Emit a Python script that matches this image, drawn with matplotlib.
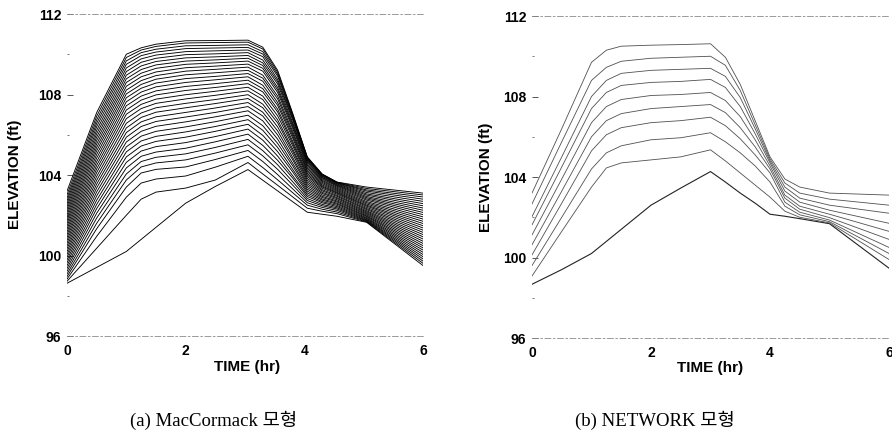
import matplotlib
matplotlib.use("Agg")
import matplotlib.pyplot as plt
from matplotlib.ticker import FixedLocator

# ---------------- data: (a) MacCormack model, 34 stations -----------------
mc_times = [0.0, 0.5, 1.0, 1.25, 1.5, 2.0, 2.5, 3.05, 3.3, 3.55, 3.8, 4.05, 4.3, 4.55, 5.05, 6.0]

mc_h000 = [98.62, 98.72, 98.83, 98.95, 99.08, 99.22, 99.36, 99.5, 99.64, 99.78, 99.92, 100.06, 100.2, 100.34,
           100.48, 100.62, 100.76, 100.9, 101.04, 101.18, 101.32, 101.46, 101.6, 101.74, 101.88, 102.02,
           102.16, 102.3, 102.44, 102.58, 102.72, 102.86, 103.02, 103.2]
mc_h050 = [99.41, 100.36, 100.95, 101.33, 101.6, 101.86, 102.1, 102.33, 102.54, 102.75, 102.96, 103.16,
           103.36, 103.55, 103.74, 103.93, 104.12, 104.3, 104.48, 104.66, 104.84, 105.02, 105.2, 105.37,
           105.54, 105.71, 105.88, 106.05, 106.22, 106.4, 106.57, 106.74, 106.92, 107.1]
mc_h100 = [100.2, 102.0, 102.9, 103.4, 103.75, 104.05, 104.35, 104.63, 104.9, 105.15, 105.4, 105.64,
           105.88, 106.11, 106.34, 106.57, 106.8, 107.02, 107.23, 107.44, 107.64, 107.84, 108.03, 108.22,
           108.41, 108.6, 108.78, 108.96, 109.14, 109.32, 109.5, 109.67, 109.84, 110.0]
mc_h125 = [100.8, 102.8, 103.6, 104.1, 104.4, 104.67, 104.93, 105.19, 105.44, 105.69, 105.93, 106.17,
           106.41, 106.64, 106.86, 107.08, 107.3, 107.51, 107.72, 107.92, 108.12, 108.31, 108.5, 108.69,
           108.88, 109.06, 109.24, 109.42, 109.6, 109.77, 109.93, 110.08, 110.21, 110.32]
mc_h150 = [101.4, 103.15, 103.8, 104.28, 104.6, 104.88, 105.14, 105.41, 105.67, 105.92, 106.17, 106.42,
           106.66, 106.89, 107.12, 107.34, 107.56, 107.77, 107.98, 108.18, 108.38, 108.57, 108.76, 108.94,
           109.12, 109.3, 109.47, 109.64, 109.8, 109.96, 110.11, 110.25, 110.39, 110.5]
mc_h200 = [102.6, 103.35, 103.95, 104.4, 104.75, 105.05, 105.33, 105.61, 105.88, 106.14, 106.39, 106.64,
           106.88, 107.11, 107.34, 107.56, 107.78, 107.99, 108.2, 108.4, 108.6, 108.79, 108.98, 109.16,
           109.33, 109.5, 109.66, 109.82, 109.98, 110.13, 110.28, 110.42, 110.56, 110.67]
mc_h250 = [103.43, 103.75, 104.39, 104.77, 105.09, 105.37, 105.65, 105.91, 106.17, 106.41, 106.65, 106.89,
           107.11, 107.33, 107.55, 107.75, 107.96, 108.16, 108.35, 108.54, 108.73, 108.9, 109.08, 109.25,
           109.41, 109.57, 109.72, 109.87, 110.02, 110.17, 110.31, 110.44, 110.58, 110.68]
mc_h305 = [104.27, 104.62, 104.93, 105.22, 105.5, 105.77, 106.03, 106.28, 106.52, 106.75, 106.97, 107.19,
           107.4, 107.6, 107.8, 107.99, 108.18, 108.36, 108.54, 108.71, 108.88, 109.04, 109.2, 109.36,
           109.51, 109.66, 109.8, 109.94, 110.08, 110.21, 110.34, 110.47, 110.6, 110.7]
mc_h330 = [103.74, 104.05, 104.37, 104.67, 104.95, 105.21, 105.47, 105.73, 105.97, 106.22, 106.45, 106.69,
           106.93, 107.12, 107.34, 107.52, 107.75, 107.92, 108.13, 108.29, 108.46, 108.66, 108.81, 108.96,
           109.16, 109.3, 109.44, 109.57, 109.71, 109.88, 110.01, 110.13, 110.26, 110.35]
mc_h355 = [103.21, 103.49, 103.76, 104.02, 104.28, 104.51, 104.73, 104.94, 105.16, 105.37, 105.57, 105.78,
           105.99, 106.19, 106.39, 106.59, 106.74, 106.94, 107.13, 107.27, 107.46, 107.6, 107.78, 107.92,
           108.1, 108.23, 108.35, 108.52, 108.64, 108.75, 108.91, 109.01, 109.11, 109.2]
mc_h380 = [102.68, 102.92, 103.13, 103.32, 103.51, 103.68, 103.86, 103.98, 104.17, 104.3, 104.47, 104.6,
           104.77, 104.89, 105.06, 105.2, 105.31, 105.47, 105.59, 105.7, 105.86, 105.97, 106.08, 106.19,
           106.34, 106.44, 106.54, 106.63, 106.77, 106.85, 106.92, 106.99, 107.05, 107.1]
mc_h405 = [102.15, 102.35, 102.5, 102.62, 102.73, 102.83, 102.93, 103.02, 103.11, 103.2, 103.29, 103.38,
           103.47, 103.56, 103.65, 103.74, 103.83, 103.92, 104.0, 104.08, 104.16, 104.24, 104.32, 104.4,
           104.48, 104.55, 104.62, 104.68, 104.74, 104.79, 104.83, 104.86, 104.88, 104.9]
mc_h430 = [102.05, 102.2, 102.3, 102.39, 102.47, 102.54, 102.62, 102.68, 102.75, 102.81, 102.88, 102.94,
           103.01, 103.08, 103.14, 103.21, 103.27, 103.34, 103.4, 103.45, 103.51, 103.57, 103.63, 103.69,
           103.74, 103.8, 103.85, 103.89, 103.93, 103.97, 104.0, 104.02, 104.04, 104.05]
mc_h455 = [101.95, 102.08, 102.16, 102.24, 102.31, 102.37, 102.43, 102.49, 102.55, 102.6, 102.66, 102.71,
           102.77, 102.83, 102.88, 102.94, 102.99, 103.05, 103.1, 103.14, 103.19, 103.24, 103.29, 103.34,
           103.39, 103.44, 103.48, 103.51, 103.55, 103.58, 103.61, 103.62, 103.64, 103.65]
mc_h505 = [101.65, 101.67, 101.7, 101.73, 101.76, 101.8, 101.84, 101.88, 101.93, 101.97, 102.02, 102.07,
           102.12, 102.17, 102.22, 102.28, 102.33, 102.39, 102.45, 102.5, 102.56, 102.62, 102.68, 102.75,
           102.81, 102.87, 102.93, 103.0, 103.06, 103.13, 103.2, 103.26, 103.33, 103.4]
mc_h600 = [99.5, 99.61, 99.72, 99.83, 99.94, 100.05, 100.16, 100.27, 100.38, 100.49, 100.6, 100.71, 100.82,
           100.93, 101.04, 101.15, 101.26, 101.37, 101.48, 101.59, 101.7, 101.81, 101.92, 102.03, 102.14,
           102.25, 102.36, 102.47, 102.58, 102.69, 102.8, 102.91, 103.01, 103.1]

# ---------------- data: (b) NETWORK model, 10 stations --------------------
net_times = [0.0, 0.5, 1.0, 1.25, 1.5, 2.0, 2.5, 3.0, 3.25, 3.5, 3.75, 4.0, 4.25, 4.5, 5.0, 6.0]
net_h000 = [98.67, 99.08, 99.6, 100.13, 100.63, 101.12, 101.62, 102.03, 102.66, 103.2]
net_h050 = [99.4, 101.3, 102.0, 102.7, 103.3, 103.9, 104.5, 105.0, 105.75, 106.4]
net_h100 = [100.2, 103.5, 104.4, 105.3, 106.0, 106.7, 107.4, 108.0, 108.8, 109.7]
net_h125 = [100.8, 104.45, 105.2, 106.1, 106.8, 107.5, 108.2, 108.8, 109.45, 110.3]
net_h150 = [101.4, 104.7, 105.55, 106.45, 107.15, 107.85, 108.55, 109.15, 109.75, 110.5]
net_h200 = [102.6, 104.85, 105.85, 106.7, 107.4, 108.05, 108.7, 109.3, 109.9, 110.55]
net_h250 = [103.45, 105.0, 105.95, 106.8, 107.5, 108.1, 108.75, 109.35, 109.95, 110.58]
net_h300 = [104.27, 105.35, 106.2, 106.97, 107.6, 108.2, 108.85, 109.4, 110.0, 110.62]
net_h325 = [103.75, 104.8, 105.75, 106.55, 107.2, 107.8, 108.45, 109.0, 109.55, 109.95]
net_h350 = [103.2, 104.2, 105.2, 105.9, 106.45, 107.0, 107.5, 107.95, 108.3, 108.6]
net_h375 = [102.7, 103.6, 104.55, 105.1, 105.5, 105.85, 106.15, 106.4, 106.6, 106.8]
net_h400 = [102.15, 103.0, 103.75, 104.2, 104.4, 104.55, 104.7, 104.8, 104.9, 105.0]
net_h425 = [102.05, 102.3, 102.55, 102.75, 102.95, 103.1, 103.3, 103.5, 103.7, 103.9]
net_h450 = [101.93, 102.0, 102.12, 102.25, 102.4, 102.55, 102.75, 102.95, 103.2, 103.5]
net_h500 = [101.68, 101.72, 101.78, 101.86, 101.98, 102.15, 102.35, 102.6, 102.9, 103.2]
net_h600 = [99.47, 99.9, 100.2, 100.5, 100.9, 101.3, 101.7, 102.2, 102.6, 103.1]

x_ticks = [0, 2, 4, 6]
y_ticks = [96, 100, 104, 108, 112]
y_minor = [98, 102, 106, 110]
captions = ["(a) MacCormack 모형", "(b) NETWORK 모형"]

mc_knots = [mc_h000, mc_h050, mc_h100, mc_h125, mc_h150, mc_h200, mc_h250, mc_h305, mc_h330,
            mc_h355, mc_h380, mc_h405, mc_h430, mc_h455, mc_h505, mc_h600]
net_knots = [net_h000, net_h050, net_h100, net_h125, net_h150, net_h200, net_h250, net_h300, net_h325,
             net_h350, net_h375, net_h400, net_h425, net_h450, net_h500, net_h600]

# ---------------- figure -------------------------------------------------
W, H = 892, 444
fig = plt.figure(figsize=(W / 100, H / 100), dpi=100)
fig.patch.set_facecolor("white")


def make_axes(x0, x1, y0, y1):
    return fig.add_axes([x0 / W, 1 - y1 / H, (x1 - x0) / W, (y1 - y0) / H])


axL = make_axes(67, 423, 14, 336)
axR = make_axes(532, 889, 16, 338)

tick_font = dict(family=["Liberation Sans", "DejaVu Sans"], weight="bold", size=10)

for ax in (axL, axR):
    ax.set_xlim(0, 6)
    ax.set_ylim(96, 112)
    ax.set_xticks(x_ticks)
    ax.set_yticks(y_ticks)
    ax.yaxis.set_minor_locator(FixedLocator(y_minor))
    ax.set_xticklabels([str(v) for v in x_ticks], **tick_font)
    ax.set_yticklabels([str(v) for v in y_ticks], **tick_font)
    ax.tick_params(axis="x", length=0, pad=6)
    ax.tick_params(axis="y", which="major", direction="in", length=4, width=0.7,
                   color="#555555", pad=4)
    ax.tick_params(axis="y", which="minor", direction="in", length=1.5, width=0.7,
                   color="#777777")
    for s in ("left", "right"):
        ax.spines[s].set_visible(False)
    for s in ("top", "bottom"):
        ax.spines[s].set_color("#8a8a8a")
        ax.spines[s].set_linewidth(0.6)
        ax.spines[s].set_linestyle((0, (7, 3, 2, 3)))

# (a) MacCormack curves
n_mc = len(mc_h000)
for i in range(n_mc):
    ys = [k[i] for k in mc_knots]
    axL.plot(mc_times, ys, color="black", lw=0.65, solid_joinstyle="round")

# (b) NETWORK curves
n_net = len(net_h000)
for i in range(n_net):
    ys = [k[i] for k in net_knots]
    if i == 0:
        axR.plot(net_times, ys, color="#222222", lw=0.8)
    else:
        axR.plot(net_times, ys, color="#505050", lw=0.6)

label_font = dict(family=["Liberation Sans", "DejaVu Sans"], weight="bold", size=11)
fig.text(15 / W, 1 - 174 / H, "ELEVATION (ft)", rotation=90, ha="center", va="center", **label_font)
fig.text(486 / W, 1 - 177 / H, "ELEVATION (ft)", rotation=90, ha="center", va="center", **label_font)
fig.text(247 / W, 1 - 367 / H, "TIME (hr)", ha="center", va="center", **label_font)
fig.text(710 / W, 1 - 368 / H, "TIME (hr)", ha="center", va="center", **label_font)

cap_font = dict(family=["Liberation Serif", "Noto Sans CJK KR"], size=13.5)
fig.text(214 / W, 1 - 420 / H, captions[0], ha="center", va="center", **cap_font)
fig.text(655 / W, 1 - 420 / H, captions[1], ha="center", va="center", **cap_font)

fig.savefig("out.png", dpi=100, facecolor="white")
